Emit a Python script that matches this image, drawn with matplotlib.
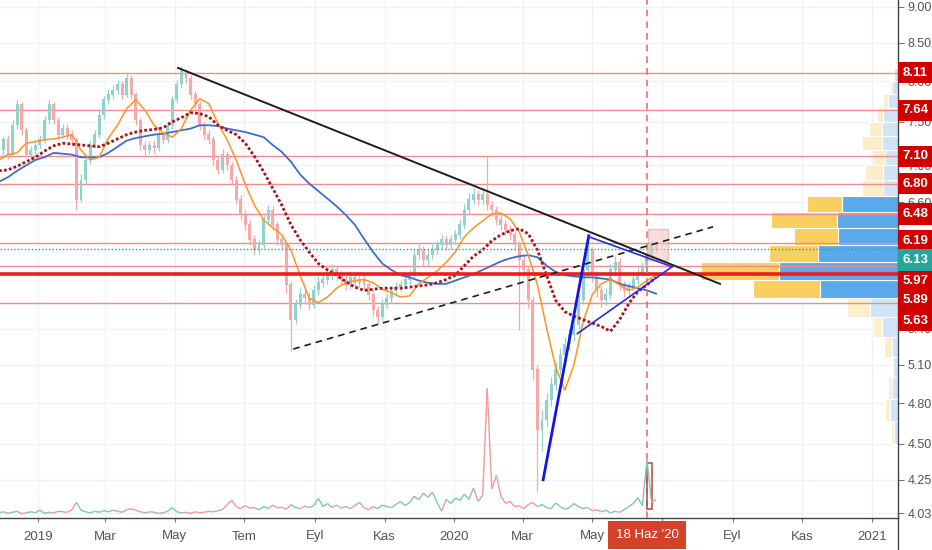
import numpy as np
import pandas as pd
import matplotlib
matplotlib.use('Agg')
import matplotlib.pyplot as plt
import matplotlib.dates as mdates
from matplotlib.collections import LineCollection
from matplotlib.patches import Rectangle
from matplotlib.lines import Line2D
from matplotlib.ticker import FixedLocator, NullLocator, NullFormatter
from matplotlib import font_manager

avail = {f.name for f in font_manager.fontManager.ttflist}
base_font = 'Liberation Sans Narrow' if 'Liberation Sans Narrow' in avail else 'Liberation Sans'
plt.rcParams['font.family'] = [base_font, 'DejaVu Sans']

# ---- price bars (one bar every 4 days) ----
bar_dates = pd.date_range('2018-11-28', periods=145, freq='4D')
first_open = 7.20
closes = [7.17, 7.29, 7.12, 7.46, 7.71, 7.40, 7.12, 7.17, 7.23, 7.29,
          7.52, 7.71, 7.52, 7.35, 7.42, 7.35, 7.29, 6.63, 6.84, 7.06,
          7.23, 7.35, 7.58, 7.77, 7.83, 7.89, 7.96, 7.83, 8.04, 7.83,
          7.52, 7.23, 7.17, 7.23, 7.19, 7.35, 7.29, 7.46, 7.77, 7.96,
          8.12, 8.04, 7.83, 7.71, 7.46, 7.35, 7.29, 7.06, 6.95, 7.12,
          7.00, 6.84, 6.63, 6.47, 6.37, 6.22, 6.12, 6.17, 6.42, 6.52,
          6.37, 6.22, 6.17, 5.79, 5.48, 5.61, 5.70, 5.67, 5.61, 5.74,
          5.81, 5.84, 5.88, 5.93, 5.88, 5.84, 5.79, 5.86, 5.81, 5.84,
          5.79, 5.70, 5.56, 5.50, 5.61, 5.67, 5.73, 5.77, 5.79, 5.84,
          5.88, 6.07, 6.12, 6.02, 6.07, 6.12, 6.17, 6.22, 6.17, 6.22,
          6.27, 6.37, 6.52, 6.63, 6.68, 6.63, 6.68, 6.57, 6.52, 6.42,
          6.37, 6.32, 6.27, 6.17, 6.02, 5.93, 5.65, 5.06, 4.60, 4.67,
          4.82, 4.94, 5.06, 5.18, 5.27, 5.35, 5.43, 5.65, 5.93, 6.12,
          5.88, 5.74, 5.65, 5.70, 5.93, 6.00, 5.79, 5.73, 5.77, 5.84,
          5.91, 5.95, 6.07, 6.17, 6.13]
highs = [7.25, 7.33, 7.34, 7.52, 7.78, 7.74, 7.44, 7.22, 7.28, 7.34,
         7.57, 7.78, 7.74, 7.56, 7.48, 7.47, 7.40, 7.32, 6.90, 7.10,
         7.28, 7.40, 7.63, 7.82, 7.90, 7.95, 8.02, 8.00, 8.12, 8.08,
         7.86, 7.55, 7.28, 7.28, 7.27, 7.40, 7.39, 7.51, 7.82, 8.02,
         8.20, 8.16, 8.08, 7.88, 7.75, 7.50, 7.40, 7.33, 7.10, 7.18,
         7.16, 7.04, 6.88, 6.68, 6.52, 6.42, 6.27, 6.22, 6.47, 6.57,
         6.56, 6.41, 6.27, 6.20, 5.83, 5.66, 5.76, 5.75, 5.72, 5.79,
         5.87, 5.90, 5.94, 5.99, 5.97, 5.92, 5.88, 5.92, 5.90, 5.89,
         5.88, 5.83, 5.74, 5.60, 5.66, 5.72, 5.78, 5.82, 5.84, 5.89,
         5.94, 6.12, 6.18, 6.16, 6.13, 6.18, 6.22, 6.28, 6.26, 6.27,
         6.32, 6.43, 6.58, 6.70, 6.75, 6.73, 6.74, 7.12, 6.62, 6.56,
         6.47, 6.42, 6.37, 6.31, 6.21, 6.07, 5.97, 5.69, 5.10, 4.75,
         4.88, 5.00, 5.12, 5.24, 5.33, 5.40, 5.49, 5.70, 5.98, 6.22,
         6.15, 5.92, 5.78, 5.76, 5.99, 6.06, 6.04, 5.83, 5.82, 5.89,
         5.96, 6.00, 6.12, 6.22, 6.20]
lows = [7.10, 7.12, 7.07, 7.10, 7.42, 7.35, 7.08, 7.06, 7.13, 7.19,
        7.25, 7.48, 7.47, 7.30, 7.31, 7.30, 7.22, 6.52, 6.60, 6.80,
        7.02, 7.19, 7.31, 7.54, 7.72, 7.78, 7.84, 7.78, 7.80, 7.78,
        7.46, 7.17, 7.12, 7.13, 7.14, 7.16, 7.24, 7.25, 7.42, 7.73,
        7.92, 7.98, 7.78, 7.66, 7.40, 7.30, 7.24, 7.00, 6.90, 6.92,
        6.95, 6.78, 6.58, 6.42, 6.32, 6.17, 6.07, 6.08, 6.14, 6.38,
        6.32, 6.17, 6.12, 5.72, 5.21, 5.44, 5.57, 5.62, 5.56, 5.58,
        5.70, 5.77, 5.80, 5.84, 5.83, 5.79, 5.74, 5.75, 5.77, 5.77,
        5.74, 5.65, 5.51, 5.44, 5.47, 5.58, 5.63, 5.69, 5.73, 5.75,
        5.80, 5.85, 6.03, 5.97, 5.98, 6.03, 6.08, 6.13, 6.12, 6.13,
        6.18, 6.23, 6.33, 6.48, 6.58, 6.57, 6.58, 6.52, 6.46, 6.37,
        6.32, 6.27, 6.22, 6.12, 5.39, 5.87, 5.58, 4.98, 4.17, 4.45,
        4.62, 4.78, 4.90, 5.02, 5.14, 5.22, 5.30, 5.40, 5.62, 5.90,
        5.82, 5.68, 5.59, 5.61, 5.66, 5.89, 5.74, 5.68, 5.69, 5.73,
        5.80, 5.87, 5.91, 6.03, 6.09]
volume = [1.0, 1.2, 0.9, 1.1, 1.3, 0.8, 1.0, 1.2, 1.0, 1.5, 0.9, 1.1, 1.0, 1.3, 1.2, 1.1, 1.6,
          3.0,
          1.5, 1.2, 1.0, 1.3, 1.1, 1.4, 1.2, 1.5, 1.3, 1.1, 1.6, 1.8,
          1.5, 1.2, 1.0, 1.2, 1.1, 0.9, 1.0, 1.3, 2.0, 1.2, 1.0, 1.1, 0.9, 1.2, 1.0, 1.1, 1.3, 1.2, 1.4, 1.6,
          2.6, 3.4,
          2.2, 1.8, 2.4, 1.9, 2.0, 1.6, 2.2, 1.8, 2.5, 1.9, 2.1, 1.7, 2.6, 2.0, 1.8, 2.3, 2.0,
          2.4, 3.8,
          2.2, 2.8, 2.0, 2.5, 1.9, 2.2, 1.8, 2.4, 3.0, 2.0, 1.6, 2.2, 1.8, 2.5, 2.2,
          2.0, 2.6, 3.2, 2.4,
          3.0, 4.2, 3.5, 4.8, 4.0, 5.0, 3.0, 1.3, 3.6, 2.8, 3.8,
          3.4, 4.6, 3.6, 5.8, 3.2, 4.4,
          25.0,
          5.6, 8.2, 4.2, 2.8, 3.2, 2.2,
          2.4, 1.8, 2.6, 3.0, 2.2, 2.6, 2.0, 1.8, 2.9, 2.2, 1.7, 2.0, 2.8, 2.2, 1.8,
          2.0, 1.4, 1.6, 1.2, 1.5, 1.0, 1.3, 1.1, 1.6, 2.2,
          2.8, 3.9, 2.4, 11.2, 3.0, 3.6]

# ---- moving averages, read every second bar ----
ma_fast = [7.06, 7.12, 7.14, 7.25, 7.27, 7.29, 7.30, 7.32, 7.35, 7.17,
           7.06, 7.09, 7.31, 7.46, 7.66, 7.77, 7.64, 7.46, 7.37, 7.32,
           7.42, 7.64, 7.78, 7.72, 7.48, 7.29, 7.06, 6.79, 6.57, 6.42,
           6.34, 6.27, 6.12, 5.88, 5.67, 5.63, 5.68, 5.76, 5.81, 5.83,
           5.84, 5.81, 5.75, 5.72, 5.68, 5.69, 5.80, 5.86, 5.92, 6.00,
           6.10, 6.25, 6.34, 6.41, 6.48, 6.49, 6.43, 6.30, 6.07, 5.79,
           5.41, 5.08, 4.90, 5.10, 5.46, 5.70, 5.80, 5.84, 5.79, 5.74,
           5.77, 5.83, 5.88]
ma_mid = [6.94, 6.95, 6.99, 7.04, 7.09, 7.16, 7.22, 7.25, 7.24, 7.23,
          7.22, 7.21, 7.25, 7.30, 7.35, 7.38, 7.40, 7.41, 7.43, 7.50,
          7.55, 7.61, 7.60, 7.56, 7.46, 7.40, 7.35, 7.25, 7.10, 6.93,
          6.75, 6.57, 6.37, 6.22, 6.10, 5.99, 5.93, 5.88, 5.82, 5.77,
          5.74, 5.75, 5.76, 5.76, 5.76, 5.77, 5.78, 5.79, 5.81, 5.84,
          5.88, 5.97, 6.06, 6.12, 6.21, 6.27, 6.31, 6.33, 6.28, 6.12,
          5.88, 5.65, 5.55, 5.51, 5.48, 5.45, 5.42, 5.38, 5.48, 5.62,
          5.73, 5.79, 5.86]
ma_slow = [6.82, 6.87, 6.94, 7.00, 7.06, 7.09, 7.14, 7.13, 7.12, 7.09,
           7.09, 7.09, 7.14, 7.21, 7.28, 7.31, 7.33, 7.35, 7.36, 7.38,
           7.40, 7.42, 7.46, 7.46, 7.45, 7.42, 7.40, 7.38, 7.35, 7.32,
           7.23, 7.15, 7.04, 6.90, 6.80, 6.72, 6.64, 6.56, 6.47, 6.37,
           6.23, 6.10, 5.99, 5.93, 5.88, 5.86, 5.83, 5.81, 5.80, 5.80,
           5.83, 5.86, 5.89, 5.93, 5.97, 6.01, 6.04, 6.06, 6.07, 6.05,
           5.97, 5.91, 5.88, 5.87, 5.86, 5.86, 5.85, 5.84, 5.80, 5.78,
           5.76, 5.74, 5.71]

# ---- drawings ----
levels = [8.11, 7.64, 7.10, 6.80, 6.48, 6.19, 5.97, 5.89, 5.63]
key_level = 5.89
last_price = 6.13
marker_date = '2020-06-18'
marker_label = "18 Haz '20"
down_trend = [('2019-05-04', 8.17), ('2020-08-21', 5.80)]
up_channel = [('2019-08-13', 5.23), ('2020-08-15', 6.35)]
impulse = [('2020-03-19', 4.25), ('2020-04-28', 6.26)]
pennant_top = [('2020-04-28', 6.25), ('2020-07-10', 5.96)]
pennant_bottom = [('2020-04-18', 5.36), ('2020-07-10', 5.96)]
price_box = [('2020-06-19', 6.02), ('2020-07-06', 6.33)]
volume_box = [('2020-06-18', 1.7), ('2020-06-22', 10.6)]

# ---- volume profile rows (bottom 4.50 to top 8.17) ----
profile_up = [4, 8, 6, 5, 6, 16, 28, 78, 119, 80, 60, 61, 56, 15, 15, 13, 16, 16, 15, 10, 6, 4]
profile_down = [3, 5, 4, 1, 8, 9, 23, 67, 78, 49, 44, 66, 35, 21, 18, 12, 20, 13, 6, 5, 2, 1]
value_area = [7, 8, 9, 10, 11, 12]

# ---- axis ticks ----
price_ticks = [4.03, 4.25, 4.50, 4.80, 5.10, 5.40, 6.60, 7.00, 7.50, 8.00, 8.50, 9.00]
month_ticks = ['2019-01-01', '2019-03-01', '2019-05-01', '2019-07-01', '2019-09-01', '2019-11-01',
               '2020-01-01', '2020-03-01', '2020-05-01', '2020-07-01', '2020-09-01', '2020-11-01',
               '2021-01-01']
# the July 2020 label sits under the crosshair date box, so it is left blank
month_labels = ['2019', 'Mar', 'May', 'Tem', 'Eyl', 'Kas', '2020', 'Mar', 'May', '',
                'Eyl', 'Kas', '2021']

UP, DOWN = '#92d2cc', '#f7a9a7'
GRID = '#eef1f6'


def dnum(s):
    return mdates.date2num(pd.Timestamp(s))


fig = plt.figure(figsize=(9.32, 5.5), dpi=100)
ax = fig.add_axes([0, 32 / 550, 898 / 932, 518 / 550])
ax.set_yscale('log')
ax.set_ylim(4.00, 9.10)
ax.set_xlim(dnum('2018-11-29'), dnum('2021-01-24'))

trans_y = ax.get_yaxis_transform()   # x in axes fraction, y in data
trans_x = ax.get_xaxis_transform()   # x in data, y in axes fraction

# volume profile on the right
edges = np.linspace(4.50, 8.17, len(profile_up) + 1)
axis_px = 898.0
for k in range(len(profile_up)):
    lo, hi = edges[k], edges[k + 1]
    strong = k in value_area
    cb = '#5aa9ec' if strong else '#cfe4f7'
    cy = '#f9cf5f' if strong else '#fdeec9'
    wb = profile_up[k] / axis_px
    wy = profile_down[k] / axis_px
    ax.add_patch(Rectangle((1 - wb, lo), wb, hi - lo, transform=trans_y,
                           fc=cb, ec='white', lw=0.8, zorder=1))
    ax.add_patch(Rectangle((1 - wb - wy, lo), wy, hi - lo, transform=trans_y,
                           fc=cy, ec='white', lw=0.8, zorder=1))

# horizontal levels
for lv in levels:
    if lv == key_level:
        ax.axhline(lv, color='#ee1c1c', lw=2.6, zorder=4)
    else:
        ax.axhline(lv, color='#f28c8c', lw=1, zorder=1.5)
ax.axhline(last_price, color='#26a69a', lw=1, ls=(0, (1, 1.5)), zorder=4)

# candles
xb = mdates.date2num(bar_dates)
opens = [first_open] + closes[:-1]
o = np.array(opens)
c = np.array(closes)
up = c >= o
cols = [UP if u else DOWN for u in up]
ax.vlines(xb, lows, highs, colors=cols, lw=0.9, zorder=2)
ax.bar(xb, np.abs(c - o) + 0.004, bottom=np.minimum(o, c), width=2.6,
       color=cols, lw=0, zorder=2.1)

# moving averages
xm = xb[::2]
ax.plot(xm, ma_slow, color='#3d6fc4', lw=1.3, zorder=3)
ax.plot(xm, ma_fast, color='#ff9326', lw=1.1, zorder=3.1)
ax.plot(xm, ma_mid, color='#a3161b', lw=2.0, ls=(0, (1, 0.8)), zorder=3.2)


# trend drawings
def draw_line(pts, **kw):
    xs = [dnum(p[0]) for p in pts]
    ys = [p[1] for p in pts]
    ax.plot(xs, ys, **kw)


draw_line(down_trend, color='#1e1e1e', lw=1.4, zorder=5)
draw_line(up_channel, color='#1e1e1e', lw=1.2, ls=(0, (4, 3)), zorder=5)
draw_line(impulse, color='#1414e6', lw=2.0, zorder=5)
draw_line(pennant_top, color='#2b2be0', lw=1.2, zorder=5)
draw_line(pennant_bottom, color='#2b2be0', lw=1.2, zorder=5)

x0, x1 = dnum(price_box[0][0]), dnum(price_box[1][0])
ax.add_patch(Rectangle((x0, price_box[0][1]), x1 - x0, price_box[1][1] - price_box[0][1],
                       fc='#f6c4c4', ec='#e59a9a', lw=1, alpha=0.55, zorder=4.5))

ax.axvline(dnum(marker_date), color='#e57373', lw=1.2, ls=(0, (4, 3)), zorder=4)

# volume overlay
axv = ax.twinx()
axv.set_ylim(0, 100)
axv.axis('off')
segs = [[(xb[i], volume[i]), (xb[i + 1], volume[i + 1])] for i in range(len(xb) - 1)]
seg_cols = ['#7cc7bd' if up[i + 1] else '#f19a9a' for i in range(len(xb) - 1)]
axv.add_collection(LineCollection(segs, colors=seg_cols, linewidths=1.0))
v0, v1 = dnum(volume_box[0][0]), dnum(volume_box[1][0])
axv.add_patch(Rectangle((v0, volume_box[0][1]), v1 - v0, volume_box[1][1] - volume_box[0][1],
                        fc='none', ec='#c0504d', lw=1.2))
axv.set_xlim(ax.get_xlim())

# axes styling (after twinx, which moves the ticks to the left)
ax.yaxis.set_major_locator(FixedLocator(price_ticks))
ax.yaxis.set_minor_locator(NullLocator())
ax.yaxis.set_minor_formatter(NullFormatter())
ax.set_yticklabels([f'{t:.2f}' for t in price_ticks])
ax.set_xticks([dnum(t) for t in month_ticks])
ax.set_xticklabels(month_labels)
ax.grid(True, color=GRID, lw=1, zorder=0)
ax.set_axisbelow(True)
ax.yaxis.tick_right()
ax.yaxis.set_label_position('right')
ax.tick_params(axis='y', which='both', left=False, labelleft=False, right=True, labelright=True,
               length=4, color='#777', labelsize=9, labelcolor='#555', pad=3)
ax.tick_params(axis='x', length=3, color='#777', labelsize=9.5, labelcolor='#555', pad=6)
for s in ['top', 'left']:
    ax.spines[s].set_visible(False)
for s in ['right', 'bottom']:
    ax.spines[s].set_color('#444')
    ax.spines[s].set_linewidth(1)
fig.add_artist(Line2D([898 / 932, 898 / 932], [0, 32 / 550], color='#444', lw=1))

# right-hand price labels
label_shift = {6.19: -2, 5.97: 15, 5.89: 26, 5.63: 18}
for lv in levels:
    ax.annotate(f'{lv:.2f}', xy=(1.0, lv), xycoords=trans_y,
                xytext=(3, -label_shift.get(lv, 0) * 0.72), textcoords='offset points',
                ha='left', va='center', color='white', fontsize=9.5, fontweight='bold',
                bbox=dict(boxstyle='square,pad=0.35', fc='#d10000', ec='none'),
                annotation_clip=False, zorder=10)
ax.annotate(f'{last_price:.2f}', xy=(1.0, last_price), xycoords=trans_y,
            xytext=(3, -11 * 0.72), textcoords='offset points',
            ha='left', va='center', color='white', fontsize=9.5, fontweight='bold',
            bbox=dict(boxstyle='square,pad=0.35', fc='#26a69a', ec='none'),
            annotation_clip=False, zorder=10)

# crosshair date label
ax.annotate(marker_label, xy=(dnum(marker_date), 0), xycoords=trans_x,
            xytext=(0, -12.5), textcoords='offset points', ha='center', va='center',
            color='white', fontsize=9.5,
            bbox=dict(boxstyle='square,pad=0.6', fc='#d2432a', ec='none'),
            annotation_clip=False, zorder=10)

fig.savefig('out.png', dpi=100, facecolor='white')
